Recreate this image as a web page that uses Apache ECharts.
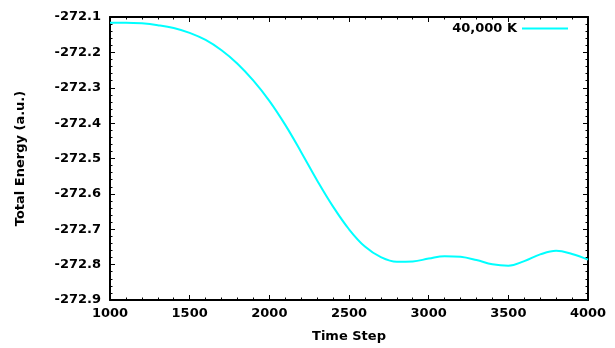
<!DOCTYPE html>
<html>
<head>
<meta charset="utf-8">
<script src="https://cdn.jsdelivr.net/npm/echarts@6/dist/echarts.min.js"></script>
<style>html,body{margin:0;padding:0;background:#fff;}#c{width:615px;height:348px;}</style>
</head>
<body>
<div id="c"></div>
<script>
var seriesName = '40,000 K';
var timeSteps = [1000,1100,1200,1300,1400,1500,1600,1700,1800,1900,2000,2100,2200,2300,2400,2500,2600,2700,2800,2900,3000,3100,3200,3300,3400,3500,3600,3700,3800,3900,4000];
var energies = [-272.116,-272.116,-272.118,-272.123,-272.131,-272.145,-272.165,-272.194,-272.232,-272.280,-272.337,-272.405,-272.482,-272.562,-272.636,-272.700,-272.749,-272.779,-272.792,-272.791,-272.783,-272.776,-272.778,-272.787,-272.799,-272.803,-272.790,-272.771,-272.761,-272.770,-272.786];
var xTitle = 'Time Step';
var yTitle = 'Total Energy (a.u.)';

var FONT = 'DejaVu Sans';
var chart = echarts.init(document.getElementById('c'), null, {renderer:'canvas'});
var data = timeSteps.map(function(t,i){return [t, energies[i]];});
function axBase(show){
  return {
    axisLine:{show:true,onZero:false,lineStyle:{color:'#000',width:2}},
    axisTick:{show:true,inside:true,length:5,lineStyle:{color:'#000',width:1}},
    minorTick:{show:true,splitNumber:5,length:2.5,lineStyle:{color:'#000',width:1}},
    splitLine:{show:false},
    axisLabel:{show:show,color:'#000',fontFamily:FONT,fontSize:13,fontWeight:'bold'}
  };
}
var x0 = Object.assign(axBase(true), {type:'value',min:1000,max:4000,interval:500,position:'bottom',
  name:xTitle,nameLocation:'middle',nameGap:30,nameTextStyle:{color:'#000',fontFamily:FONT,fontSize:13,fontWeight:'bold'}});
x0.axisLabel.margin = 7;
x0.axisLabel.formatter = function(v){return String(v);};
var x1 = Object.assign(axBase(false), {type:'value',min:1000,max:4000,interval:500,position:'top'});
var y0 = Object.assign(axBase(true), {type:'value',min:-272.9,max:-272.1,interval:0.1,position:'left',
  name:yTitle,nameLocation:'middle',nameGap:83,nameRotate:90,nameTextStyle:{color:'#000',fontFamily:FONT,fontSize:13,fontWeight:'bold'}});
y0.axisLabel.margin = 9;
y0.axisLabel.formatter = function(v){return v.toFixed(1);};
var y1 = Object.assign(axBase(false), {type:'value',min:-272.9,max:-272.1,interval:0.1,position:'right'});

chart.setOption({
  animation:false,
  backgroundColor:'#fff',
  grid:{left:110,right:27,top:17,bottom:47,containLabel:false},
  legend:{show:true,right:42,top:17,itemWidth:46,itemHeight:2,itemGap:10,align:'right',
    icon:'rect',
    textStyle:{color:'#000',fontFamily:FONT,fontSize:13,fontWeight:'bold'},
    data:[{name:seriesName,icon:'rect'}]},
  xAxis:[x0,x1],
  yAxis:[y0,y1],
  series:[{name:seriesName,type:'line',xAxisIndex:0,yAxisIndex:0,data:data,smooth:0.4,showSymbol:false,
    lineStyle:{color:'#00ffff',width:2},itemStyle:{color:'#00ffff'}}]
});
</script>
</body>
</html>
